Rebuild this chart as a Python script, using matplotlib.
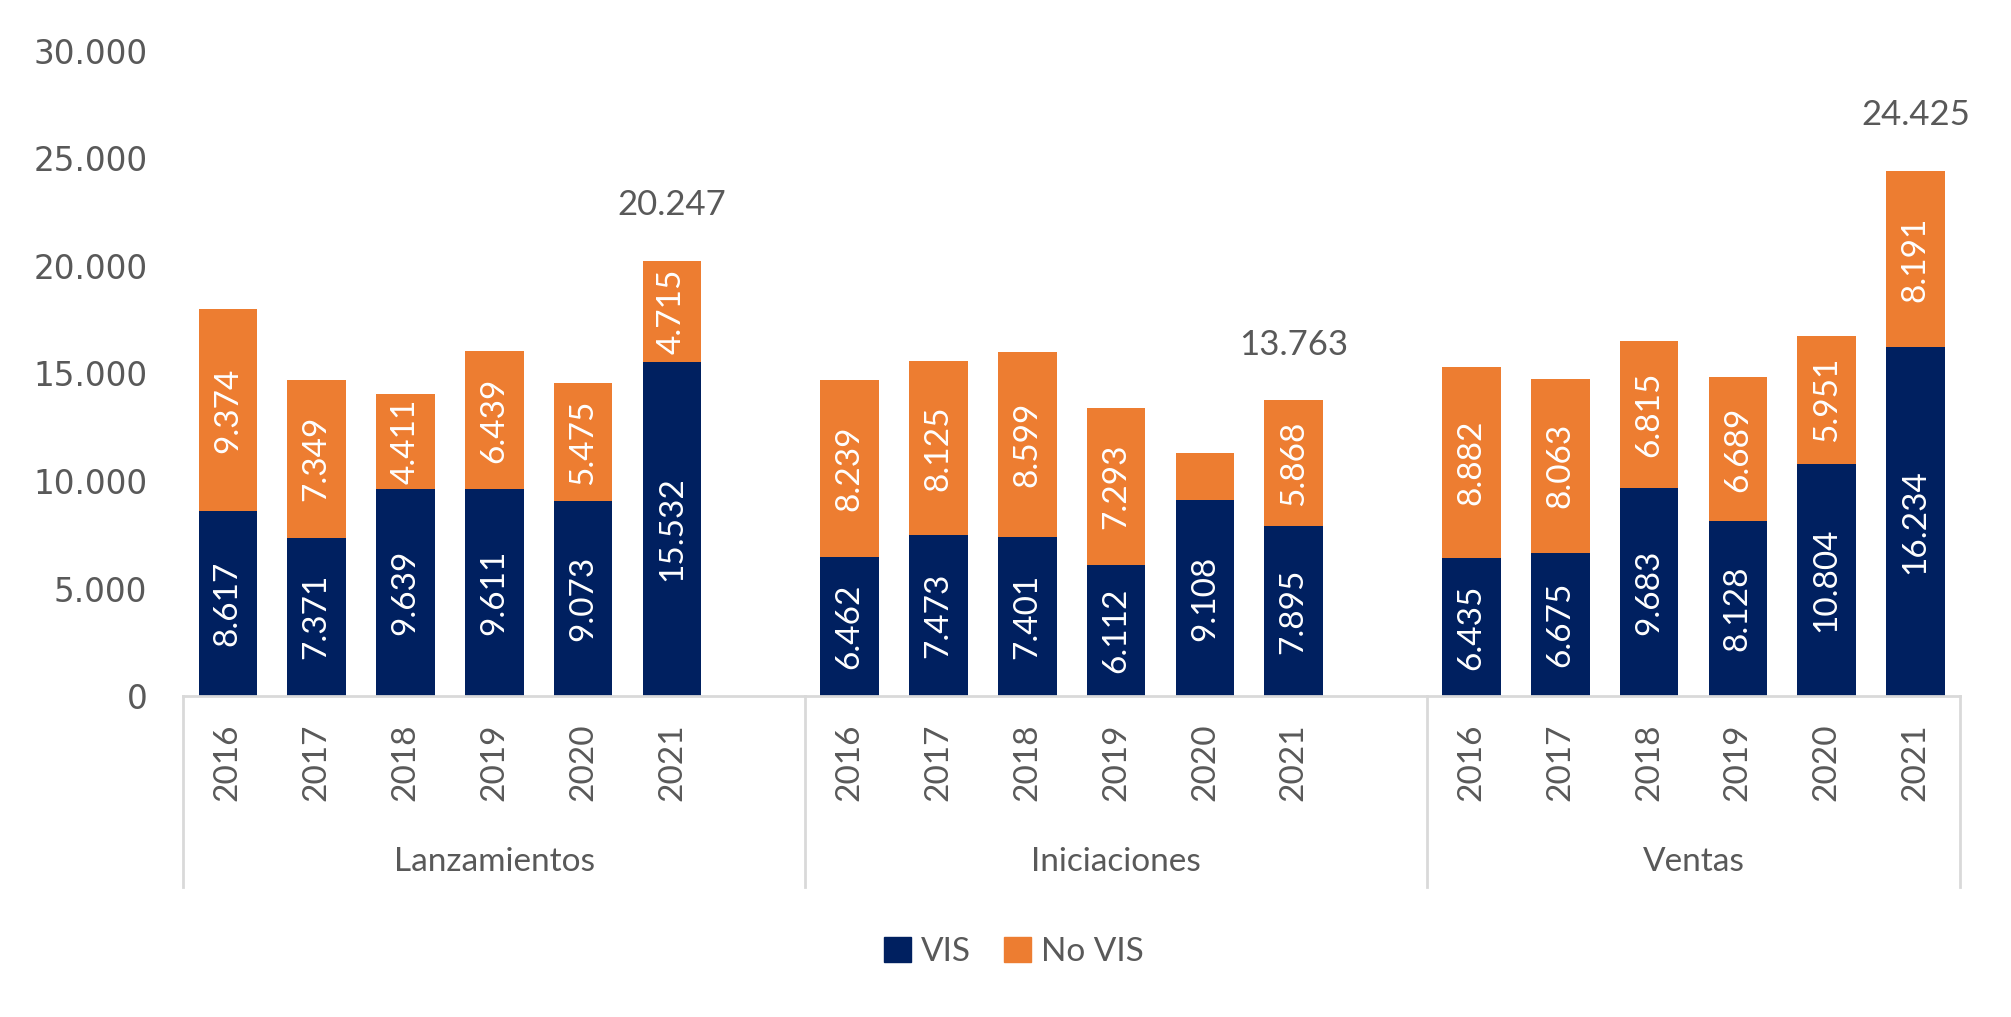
import matplotlib
matplotlib.use("Agg")
import matplotlib.pyplot as plt
from matplotlib.patches import Patch
import numpy as np

groups = ["Lanzamientos", "Iniciaciones", "Ventas"]
years = ["2016", "2017", "2018", "2019", "2020", "2021"]
vis = [[8617, 7371, 9639, 9611, 9073, 15532],
       [6462, 7473, 7401, 6112, 9108, 7895],
       [6435, 6675, 9683, 8128, 10804, 16234]]
novis = [[9374, 7349, 4411, 6439, 5475, 4715],
         [8239, 8125, 8599, 7293, 2194, 5868],
         [8882, 8063, 6815, 6689, 5951, 8191]]
novis_labels_shown = [[True] * 6,
                      [True, True, True, True, False, True],
                      [True] * 6]
yticks = [0, 5000, 10000, 15000, 20000, 25000, 30000]

NAVY = "#002060"
ORANGE = "#ED7D31"
GRAY = "#595959"
LINE = "#D9D9D9"

plt.rcParams['font.family'] = ['Lato', 'DejaVu Sans']

def fmt(v):
    return f"{v:,}".replace(",", ".")

fig = plt.figure(figsize=(20.11, 10.17), dpi=100)
ax = fig.add_axes([0.0912, 0.3156, 0.8834, 0.6343])

slot_starts = [0, 7, 14]
bounds = [0, 7, 14, 20]
bw = 0.66
FS = 24
xticks, xlabels = [], []
for g in range(3):
    xs = np.arange(6) + slot_starts[g] + 0.5
    ax.bar(xs, vis[g], width=bw, color=NAVY, zorder=2)
    ax.bar(xs, novis[g], width=bw, bottom=vis[g], color=ORANGE, zorder=2)
    for i, x in enumerate(xs):
        ax.text(x, vis[g][i] / 2, fmt(vis[g][i]), rotation=90, ha='center', va='center',
                color='white', fontsize=FS)
        if novis_labels_shown[g][i]:
            ax.text(x, vis[g][i] + novis[g][i] / 2, fmt(novis[g][i]), rotation=90,
                    ha='center', va='center', color='white', fontsize=FS)
    tot = vis[g][-1] + novis[g][-1]
    ax.annotate(fmt(tot), (xs[-1], tot), xytext=(0, 40), textcoords='offset points',
                ha='center', va='center', fontsize=25, color=GRAY)
    xticks += list(xs)
    xlabels += years
    ax.text((bounds[g] + bounds[g + 1]) / 2, -0.257, groups[g],
            transform=ax.get_xaxis_transform(),
            ha='center', va='center', fontsize=FS, color=GRAY)

ax.set_xlim(0, 20)
ax.set_ylim(0, 30000)
ax.set_yticks(yticks)
ax.set_yticklabels([fmt(v) for v in yticks], fontsize=23.5, color=GRAY, family=['DejaVu Sans'])
ax.set_xticks(xticks)
ax.set_xticklabels(xlabels, rotation=90, fontsize=FS, color=GRAY)
ax.tick_params(axis='x', length=0, pad=20)
ax.tick_params(axis='y', length=0, pad=26)
for s in ['top', 'right', 'left']:
    ax.spines[s].set_visible(False)
ax.spines['bottom'].set_color(LINE)
ax.spines['bottom'].set_linewidth(2)

for xb in bounds:
    ax.plot([xb, xb], [0, -0.296], transform=ax.get_xaxis_transform(), color=LINE,
            lw=2, clip_on=False)

handles = [Patch(color=NAVY, label="VIS"), Patch(color=ORANGE, label="No VIS")]
fig.legend(handles=handles, loc='center', bbox_to_anchor=(0.504, 0.064), ncol=2,
           frameon=False, fontsize=FS, handlelength=0.8, handleheight=0.8,
           handletextpad=0.3, columnspacing=1.0, labelcolor=GRAY)

fig.savefig("out.png", dpi=100)
